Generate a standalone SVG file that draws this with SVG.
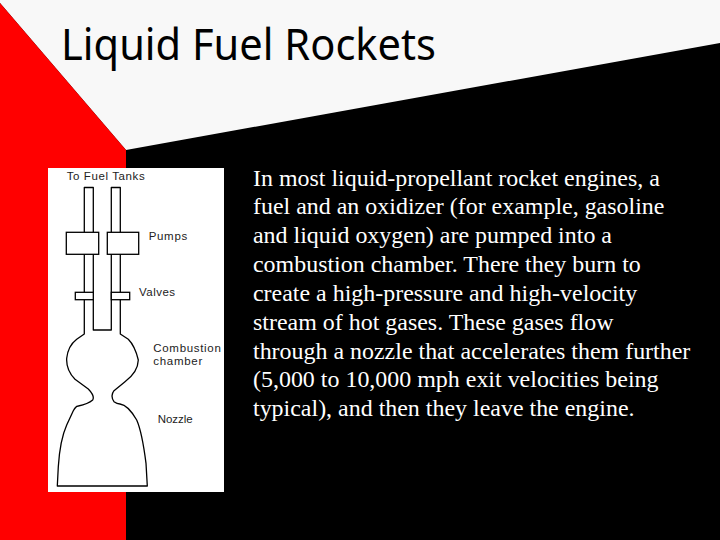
<svg xmlns="http://www.w3.org/2000/svg" width="720" height="540" viewBox="0 0 720 540">
<style>
.line{fill:none;stroke:#000;stroke-width:1.3;stroke-linejoin:round}
.box{fill:#fff;stroke:#000;stroke-width:1.3}
.lab{font-family:"Liberation Sans",Arial,sans-serif;font-size:11.5px;fill:#222}
.body{font-family:"Liberation Serif","Times New Roman",serif;font-size:23.95px;fill:#fff}
</style>
<rect width="720" height="540" fill="#000"/>
<polygon points="0,0 720,0 720,43 126,150 0,3" fill="#f8f8f8"/>
<polygon points="0,3 126,150 126,540 0,540" fill="#f00"/>
<text id="title" x="61" y="59.5" font-family="'Noto Sans','Open Sans',sans-serif" font-size="44" textLength="375" lengthAdjust="spacingAndGlyphs" fill="#000">Liquid Fuel Rockets</text>
<rect x="48" y="168" width="176" height="324" fill="#fff"/>
<g id="engine">
<path class="line" d="M84.3,187.5H93.3V330H111.3V187.5H120.3V334L128.3,339.3Q135,346 138.3,360Q138,372 125,381.7L114,390.7Q110,396 114,401.7Q117,404 120,404Q128,405 136.7,420Q142,432 146,463.3L147.3,486H57.3L58.3,466.7Q60,440 66.7,425L73.3,410.7Q76,406 78.3,406Q88,404 92.7,400Q95,396 88.3,389L75,379.3Q66,370 66.7,358.3Q68,346 76.7,339.3L84.3,334Z"/>
</g>
<g id="pumps"><rect class="box" x="66.3" y="232.3" width="32.4" height="22"/><rect class="box" x="107.3" y="232.3" width="31.4" height="22"/></g>
<g id="valves"><rect class="box" x="75.3" y="292.3" width="18" height="7.4"/><rect class="box" x="111.3" y="292.3" width="18.4" height="7.4"/></g>
<g id="labels">
<text class="lab" x="66.7" y="180" textLength="78">To Fuel Tanks</text>
<text class="lab" x="148.7" y="240" textLength="38.5">Pumps</text>
<text class="lab" x="139" y="296" textLength="36">Valves</text>
<text class="lab" x="153.3" y="352" textLength="67.5">Combustion</text>
<text class="lab" x="153.3" y="365" textLength="49">chamber</text>
<text class="lab" x="157.7" y="423" textLength="35">Nozzle</text>
</g>
<g id="body" class="body">
<text x="253" y="185.5">In most liquid-propellant rocket engines, a</text>
<text x="253" y="214.4">fuel and an oxidizer (for example, gasoline</text>
<text x="253" y="243.3">and liquid oxygen) are pumped into a</text>
<text x="253" y="272">combustion chamber. There they burn to</text>
<text x="253" y="301">create a high-pressure and high-velocity</text>
<text x="253" y="329.8">stream of hot gases. These gases flow</text>
<text x="253" y="358.5">through a nozzle that accelerates them further</text>
<text x="253" y="387.3">(5,000 to 10,000 mph exit velocities being</text>
<text x="253" y="416">typical), and then they leave the engine.</text>
</g>
</svg>
